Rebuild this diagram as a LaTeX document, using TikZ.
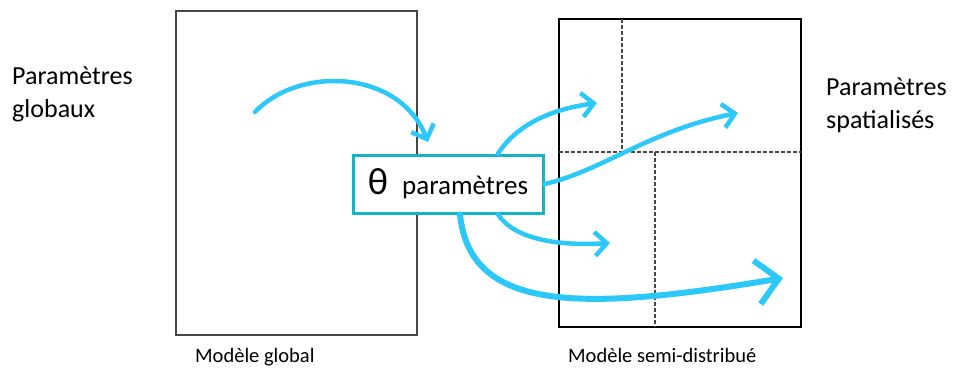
\documentclass[tikz,border=0pt]{standalone}
\usepackage{fontspec}
\setmainfont{Carlito}
\usepackage{tikz}
\usetikzlibrary{arrows.meta, positioning}
\definecolor{flux}{RGB}{45,200,250}
\definecolor{cadre}{RGB}{20,180,200}
\definecolor{trait}{RGB}{70,70,70}
\tikzstyle{modelbox} = [rectangle, draw=trait, line width=1.4pt, fill=white, inner sep=0pt]
\tikzstyle{thetabox} = [rectangle, draw=cadre, line width=3pt, fill=white, minimum width=190pt, minimum height=58pt, text centered, inner sep=0pt]
\tikzstyle{label} = [inner sep=0pt, align=left, font=\fontsize{26}{33}\selectfont]
\tikzstyle{caption} = [inner sep=0pt, anchor=base west, font=\fontsize{20.5}{24}\selectfont]
\tikzstyle{grid} = [draw=trait, line width=1.5pt, dash pattern=on 4pt off 2pt]
\tikzstyle{arrow} = [draw=flux, line width=4.5pt, line cap=round, -{Straight Barb[length=12pt,width=24pt]}]
\tikzstyle{bigarrow} = [draw=flux, line width=6pt, line cap=round, -{Straight Barb[length=22pt,width=44pt]}]

\begin{document}
\begin{tikzpicture}[x=1pt, y=-1pt]
\useasboundingbox (0,0) rectangle (960,369);

\node (global) [modelbox, minimum width=241pt, minimum height=324pt] at (296.5,173) {};
\node (semi) [modelbox, draw=black, line width=2pt, minimum width=242pt, minimum height=308pt] at (680,173) {};

\draw [grid] (559,152) -- (801,152);
\draw [grid] (622,19) -- (622,152);
\draw [grid] (655,152) -- (655,327);

\node (globtxt) [label, anchor=north west] at (12,67) {Paramètres\\globaux};
\node (spattxt) [label, anchor=north west] at (826,78) {Paramètres\\spatialisés};
\node (globcap) [caption] at (195,362) {Modèle global};
\node (semicap) [caption] at (568,362) {Modèle semi-distribué};

\node (theta) [thetabox] at (448,184) {{\fontsize{38}{40}\selectfont θ}\hspace{14pt}{\fontsize{27}{30}\selectfont paramètres}};

\coordinate (gstart) at (255,112);
\coordinate (gend) at (428,142);
\coordinate (cellA) at (597,103);
\coordinate (cellB) at (738,113);
\coordinate (cellC) at (610,243);
\coordinate (cellD) at (783,278);

\draw [arrow] (gstart) .. controls (300,65) and (400,70) .. (gend);
\draw [arrow] ([xshift=50pt]theta.north) .. controls (520,120) and (560,108) .. (cellA);
\draw [arrow] (theta.east) .. controls (600,172) and (650,130) .. (cellB);
\draw [arrow] ([xshift=50pt]theta.south) .. controls (515,240) and (560,246) .. (cellC);
\draw [bigarrow] ([xshift=12pt]theta.south) .. controls (470,312) and (580,312) .. (cellD);
\end{tikzpicture}
\end{document}
